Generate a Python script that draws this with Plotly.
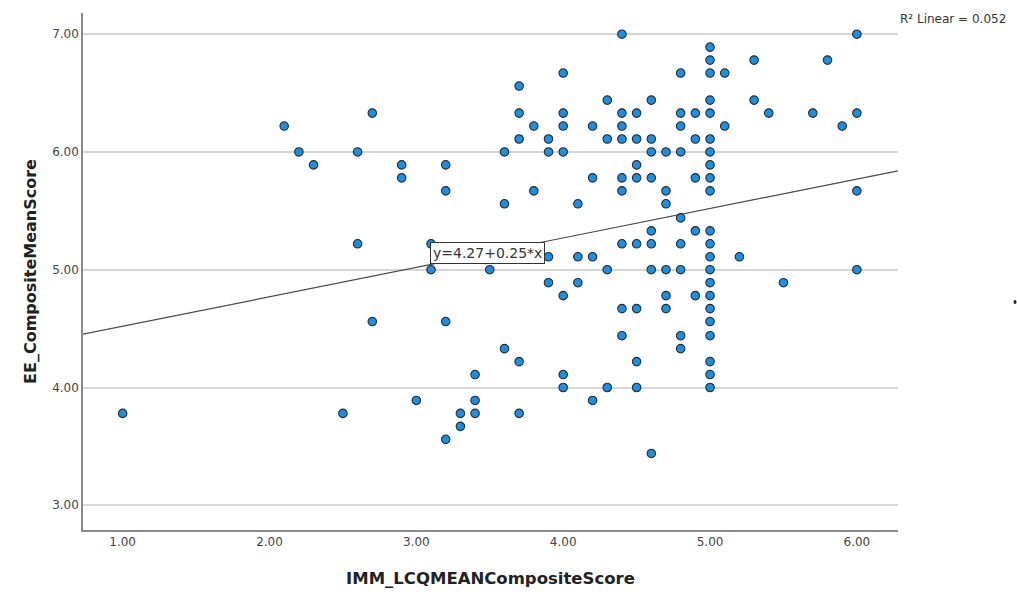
import plotly.graph_objects as go

# ---- data (x = IMM_LCQ score, y = EE score) ----
x_vals = (
    [1.0] + [2.1] + [2.2] + [2.3] + [2.5] + [2.6]*2 + [2.7]*2 + [2.9]*2 + [3.0]
    + [3.1]*2 + [3.2]*4 + [3.3]*2 + [3.4]*3 + [3.5] + [3.6]*3 + [3.7]*5 + [3.8]*2
    + [3.9]*4 + [4.0]*7 + [4.1]*3 + [4.2]*4 + [4.3]*4 + [4.4]*9 + [4.5]*8 + [4.6]*8
    + [4.7]*6 + [4.8]*9 + [4.9]*5 + [5.0]*22 + [5.1]*2 + [5.2] + [5.3]*2 + [5.4]
    + [5.5] + [5.7] + [5.8] + [5.9] + [6.0]*4
)
y_vals = (
    [3.78]                      # 1.0
    + [6.22]                    # 2.1
    + [6.00]                    # 2.2
    + [5.89]                    # 2.3
    + [3.78]                    # 2.5
    + [6.00, 5.22]              # 2.6
    + [6.33, 4.56]              # 2.7
    + [5.89, 5.78]              # 2.9
    + [3.89]                    # 3.0
    + [5.22, 5.00]              # 3.1
    + [5.89, 5.67, 4.56, 3.56]  # 3.2
    + [3.78, 3.67]              # 3.3
    + [4.11, 3.89, 3.78]        # 3.4
    + [5.00]                    # 3.5
    + [6.00, 5.56, 4.33]        # 3.6
    + [6.56, 6.33, 6.11, 4.22, 3.78]  # 3.7
    + [6.22, 5.67]              # 3.8
    + [6.11, 6.00, 5.11, 4.89]  # 3.9
    + [6.67, 6.33, 6.22, 6.00, 4.78, 4.11, 4.00]  # 4.0
    + [5.56, 5.11, 4.89]        # 4.1
    + [6.22, 5.78, 5.11, 3.89]  # 4.2
    + [6.44, 6.11, 5.00, 4.00]  # 4.3
    + [7.00, 6.33, 6.22, 6.11, 5.78, 5.67, 5.22, 4.67, 4.44]  # 4.4
    + [6.33, 6.11, 5.89, 5.78, 5.22, 4.67, 4.22, 4.00]        # 4.5
    + [6.44, 6.11, 6.00, 5.78, 5.33, 5.22, 5.00, 3.44]        # 4.6
    + [6.00, 5.67, 5.56, 5.00, 4.78, 4.67]                    # 4.7
    + [6.67, 6.33, 6.22, 6.00, 5.44, 5.22, 5.00, 4.44, 4.33]  # 4.8
    + [6.33, 6.11, 5.78, 5.33, 4.78]                          # 4.9
    + [6.89, 6.78, 6.67, 6.44, 6.33, 6.11, 6.00, 5.89, 5.78, 5.67, 5.33,
       5.22, 5.11, 5.00, 4.89, 4.78, 4.67, 4.56, 4.44, 4.22, 4.11, 4.00]  # 5.0
    + [6.67, 6.22]              # 5.1
    + [5.11]                    # 5.2
    + [6.78, 6.44]              # 5.3
    + [6.33]                    # 5.4
    + [4.89]                    # 5.5
    + [6.33]                    # 5.7
    + [6.78]                    # 5.8
    + [6.22]                    # 5.9
    + [7.00, 6.33, 5.67, 5.00]  # 6.0
)

fit_intercept = 4.27
fit_slope = 0.25
r2_linear = 0.052

x_range = [0.73, 6.28]
y_range = [2.79, 7.18]
x_ticks = [1, 2, 3, 4, 5, 6]
y_ticks = [3, 4, 5, 6, 7]

fig = go.Figure()

# fit line
fit_x = x_range
fit_y = [fit_intercept + fit_slope * v for v in fit_x]
fig.add_trace(go.Scatter(
    x=fit_x, y=fit_y, mode="lines",
    line=dict(color="#4a4a4a", width=1.2),
    hoverinfo="skip", showlegend=False, cliponaxis=True,
))

fig.add_trace(go.Scatter(
    x=x_vals, y=y_vals, mode="markers",
    marker=dict(size=8.5, color="#1a8fe3",
                line=dict(color="#2a2a2a", width=1.1)),
    showlegend=False, cliponaxis=False,
))

font_family = "DejaVu Sans"

fig.add_annotation(
    x=3.095, y=5.14, xref="x", yref="y", xanchor="left", yanchor="middle",
    text="y=4.27+0.25*x", showarrow=False,
    font=dict(family=font_family, size=14, color="#333333"),
    bgcolor="white", bordercolor="#333333", borderwidth=1, borderpad=2,
)
fig.add_annotation(
    x=1.0, y=1.0, xref="paper", yref="paper", xanchor="left", yanchor="middle",
    xshift=0, yshift=-6,
    text=f"R² Linear = {r2_linear:.3f}", showarrow=False,
    font=dict(family=font_family, size=12, color="#333333"),
)

fig.add_shape(
    type="circle", xref="paper", yref="paper",
    xsizemode="pixel", ysizemode="pixel",
    xanchor=1.1436, yanchor=0.441, x0=-1.5, x1=1.5, y0=-2, y1=2,
    fillcolor="#222222", line=dict(width=0),
)

fig.update_layout(
    width=1017, height=592, autosize=False,
    margin=dict(l=83, r=119, t=13, b=62),
    paper_bgcolor="white", plot_bgcolor="white",
    font=dict(family=font_family, color="#333333"),
    xaxis=dict(
        range=x_range, tickvals=x_ticks,
        ticktext=[f"{v:.2f}" for v in x_ticks],
        showgrid=False, zeroline=False, automargin=False,
        showline=True, linecolor="#8a8a8a", linewidth=1.5,
        ticks="", tickfont=dict(size=12, color="#444444"),
        title=dict(text="<b>IMM_LCQMEANCompositeScore</b>",
                   font=dict(size=16.5, color="#222222"), standoff=24),
    ),
    yaxis=dict(
        range=y_range, tickvals=y_ticks,
        ticktext=[f"{v:.2f}" for v in y_ticks],
        showgrid=True, gridcolor="#d6d6d6", gridwidth=1.5,
        zeroline=False, automargin=False,
        showline=True, linecolor="#8a8a8a", linewidth=1.5,
        ticks="", tickfont=dict(size=12, color="#444444"),
        title=dict(text="<b>EE_CompositeMeanScore</b>",
                   font=dict(size=16, color="#222222"), standoff=12),
    ),
)

fig.write_html("out.html")
